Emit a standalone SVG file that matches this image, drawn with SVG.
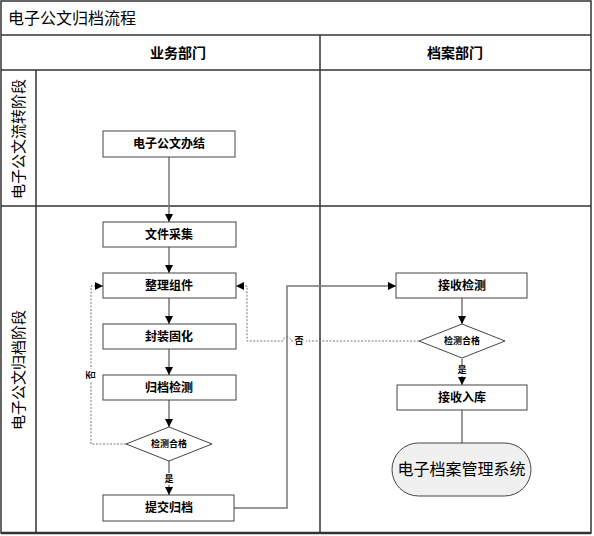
<svg xmlns="http://www.w3.org/2000/svg" width="594" height="536" viewBox="0 0 594 536">
<defs>
<marker id="arr" viewBox="0 0 10 10" refX="10" refY="5" markerWidth="8" markerHeight="8" markerUnits="userSpaceOnUse" orient="auto">
<path d="M0,0 L10,5 L0,10 z" fill="#000"/>
</marker>
<style>
text{font-family:"Liberation Sans","Noto Sans CJK SC",sans-serif;fill:#000}
.frame{fill:none;stroke:#333;stroke-width:1.5}
.box{fill:#fff;stroke:#444;stroke-width:1}
.lbl{font-size:12px;font-weight:bold;text-anchor:middle;dominant-baseline:central}
.dlbl{font-size:9px;font-weight:bold;text-anchor:middle;dominant-baseline:central}
.conn{fill:none;stroke:#777;stroke-width:1.5}
.dash{fill:none;stroke:#777;stroke-width:1;stroke-dasharray:2,1.5}
.small{font-size:9px;text-anchor:middle;dominant-baseline:central}
</style>
</defs>
<rect x="0" y="0" width="594" height="536" fill="#fff"/>
<g id="frame">
<rect class="frame" x="1" y="1" width="590" height="532"/>
<line class="frame" x1="1" y1="35" x2="591" y2="35"/>
<line class="frame" x1="1" y1="70" x2="591" y2="70"/>
<line class="frame" x1="36" y1="70" x2="36" y2="533"/>
<line class="frame" x1="320" y1="35" x2="320" y2="533"/>
<line class="frame" x1="1" y1="206" x2="591" y2="206"/>
<line x1="1" y1="533" x2="591" y2="533" stroke="#333" stroke-width="2.5"/>
<text x="8" y="18" font-size="16" dominant-baseline="central">电子公文归档流程</text>
<text x="178" y="53" font-size="14" font-weight="bold" text-anchor="middle" dominant-baseline="central">业务部门</text>
<text x="455" y="53" font-size="14" font-weight="bold" text-anchor="middle" dominant-baseline="central">档案部门</text>
<text transform="translate(18,139) rotate(-90)" font-size="15" text-anchor="middle" dominant-baseline="central">电子公文流转阶段</text>
<text transform="translate(18,370) rotate(-90)" font-size="15" text-anchor="middle" dominant-baseline="central">电子公文归档阶段</text>
</g>
<g id="connectors">
<line class="conn" x1="169" y1="157" x2="169" y2="222" marker-end="url(#arr)"/>
<line class="conn" x1="169" y1="247" x2="169" y2="273" marker-end="url(#arr)"/>
<line class="conn" x1="169" y1="298" x2="169" y2="324" marker-end="url(#arr)"/>
<line class="conn" x1="169" y1="349" x2="169" y2="375" marker-end="url(#arr)"/>
<line class="conn" x1="169" y1="400" x2="169" y2="427" marker-end="url(#arr)"/>
<line class="conn" x1="169" y1="461" x2="169" y2="473"/>
<line class="conn" x1="169" y1="485" x2="169" y2="495" marker-end="url(#arr)"/>
<text class="small" x="169" y="479" font-weight="bold">是</text>
<polyline class="dash" points="126,444 91,444 91,286 103,286" marker-end="url(#arr)"/>
<rect x="85" y="369" width="12" height="12" fill="#fff"/>
<text class="small" transform="translate(91,375) rotate(-90)" font-weight="bold">否</text>
<polyline class="conn" points="234,508 287,508 287,286 396,286" marker-end="url(#arr)"/>
<line class="conn" x1="462" y1="298" x2="462" y2="324" marker-end="url(#arr)"/>
<path class="dash" d="M419,341 L291,341 A4,4 0 0 0 283,341 L247,341 L247,286 L236,286" marker-end="url(#arr)"/>
<rect x="293" y="335" width="13" height="12" fill="#fff"/>
<text class="small" x="299" y="341" font-weight="bold">否</text>
<line class="conn" x1="462" y1="359" x2="462" y2="366"/>
<line class="conn" x1="462" y1="376" x2="462" y2="385" marker-end="url(#arr)"/>
<text class="small" x="462" y="370" font-weight="bold">是</text>
<line class="conn" x1="462" y1="410" x2="462" y2="443"/>
</g>
<g id="n1"><rect class="box" x="103" y="131" width="132" height="26"/><text class="lbl" x="169" y="144">电子公文办结</text></g>
<g id="n2"><rect class="box" x="103" y="222" width="133" height="25"/><text class="lbl" x="169" y="234.5">文件采集</text></g>
<g id="n3"><rect class="box" x="103" y="273" width="133" height="25"/><text class="lbl" x="169" y="285.5">整理组件</text></g>
<g id="n4"><rect class="box" x="103" y="324" width="133" height="25"/><text class="lbl" x="169" y="336.5">封装固化</text></g>
<g id="n5"><rect class="box" x="103" y="375" width="133" height="25"/><text class="lbl" x="169" y="387.5">归档检测</text></g>
<g id="d1"><polygon class="box" points="169,427 212,444 169,461 126,444"/><text class="dlbl" x="169" y="444">检测合格</text></g>
<g id="n6"><rect class="box" x="103" y="495" width="131" height="26"/><text class="lbl" x="169" y="508">提交归档</text></g>
<g id="n7"><rect class="box" x="396" y="273" width="131" height="25"/><text class="lbl" x="462" y="285.5">接收检测</text></g>
<g id="d2"><polygon class="box" points="462,324 505,341 462,358 419,341"/><text class="dlbl" x="462" y="341">检测合格</text></g>
<g id="n8"><rect class="box" x="397" y="385" width="130" height="25"/><text class="lbl" x="462" y="397.5">接收入库</text></g>
<g id="n9"><rect x="392" y="443" width="139" height="53" rx="26.5" ry="26.5" fill="#f0f0f0" stroke="#444" stroke-width="1"/><text x="461.5" y="469.5" font-size="16" text-anchor="middle" dominant-baseline="central">电子档案管理系统</text></g>
</svg>
